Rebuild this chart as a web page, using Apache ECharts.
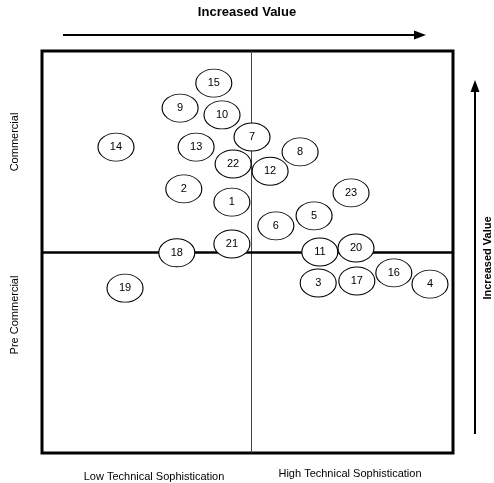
<!DOCTYPE html>
<html>
<head>
<meta charset="utf-8">
<script src="https://cdn.jsdelivr.net/npm/echarts@6/dist/echarts.min.js"></script>
<style>
html,body{margin:0;padding:0;background:#fff;}
#c{width:494px;height:483px;}
</style>
</head>
<body>
<div id="c"></div>
<script>
// Item ids and positions (x: technical sophistication 0-100, y: commercial maturity 0-100)
var ids = ['1','2','3','4','5','6','7','8','9','10','11','12','13','14','15','16','17','18','19','20','21','22','23'];
var xVals = [46.2,34.5,67.2,94.4,66.2,56.9,51.1,62.8,33.6,43.8,67.6,55.5,37.5,18.0,41.8,85.6,76.6,32.8,20.2,76.4,46.2,46.5,75.2];
var yVals = [62.4,65.7,42.3,42.0,59.0,56.5,78.6,74.9,85.8,84.1,50.0,70.1,76.1,76.1,92.0,44.8,42.8,49.8,41.0,51.0,52.0,71.9,64.7];
var xDivider = 51;
var yDivider = 50;
var xLabels = ['Low Technical Sophistication','High Technical Sophistication'];
var yLabels = ['Commercial','Pre Commercial'];
var valueLabel = 'Increased Value';

var pts = ids.map(function(id,i){ return {name:id, value:[xVals[i], yVals[i]]}; });
var FONT = 'Liberation Sans, Arial, sans-serif';

var chart = echarts.init(document.getElementById('c'), null, {renderer:'canvas'});
chart.setOption({
  animation:false,
  backgroundColor:'#fff',
  grid:{left:42, top:51, width:411, height:402, show:true, borderColor:'#000', borderWidth:3, backgroundColor:'transparent'},
  xAxis:{type:'value', min:0, max:100, show:false, splitLine:{show:false}},
  yAxis:{type:'value', min:0, max:100, show:false, splitLine:{show:false}},
  series:[{
    type:'scatter',
    data:pts,
    symbol:'path://M0,14 A18,14 0 1,1 36,14 A18,14 0 1,1 0,14 Z',
    symbolSize:[36,28],
    symbolKeepAspect:false,
    itemStyle:{color:'#fff', borderColor:'#000', borderWidth:1, opacity:1},
    label:{show:true, position:'inside', formatter:'{b}', color:'#000', fontSize:11, fontFamily:FONT},
    z:5,
    markLine:{
      silent:true, symbol:'none', animation:false,
      label:{show:false},
      data:[
        {xAxis:xDivider, lineStyle:{color:'#444', width:1, type:'solid'}},
        {yAxis:yDivider, lineStyle:{color:'#000', width:2.5, type:'solid'}}
      ]
    }
  }],
  graphic:[
    {type:'text', left:'center', top:6, style:{text:valueLabel, font:'bold 13px '+FONT, fill:'#000'}},
    {type:'line', shape:{x1:63, y1:35, x2:416, y2:35}, style:{stroke:'#000', lineWidth:2}},
    {type:'polygon', shape:{points:[[414,30.5],[426,35],[414,39.5]]}, style:{fill:'#000'}},
    {type:'line', shape:{x1:475, y1:434, x2:475, y2:90}, style:{stroke:'#000', lineWidth:2}},
    {type:'polygon', shape:{points:[[470.5,92],[475,80],[479.5,92]]}, style:{fill:'#000'}},
    {type:'text', x:488, y:258, rotation:Math.PI/2, style:{text:valueLabel, font:'bold 11px '+FONT, fill:'#000', align:'center', verticalAlign:'middle'}},
    {type:'text', x:15, y:142, rotation:Math.PI/2, style:{text:yLabels[0], font:'11px '+FONT, fill:'#000', align:'center', verticalAlign:'middle'}},
    {type:'text', x:15, y:315, rotation:Math.PI/2, style:{text:yLabels[1], font:'11px '+FONT, fill:'#000', align:'center', verticalAlign:'middle'}},
    {type:'text', x:154, y:477, style:{text:xLabels[0], font:'11px '+FONT, fill:'#000', align:'center', verticalAlign:'middle'}},
    {type:'text', x:350, y:474, style:{text:xLabels[1], font:'11px '+FONT, fill:'#000', align:'center', verticalAlign:'middle'}}
  ]
});
</script>
</body>
</html>
